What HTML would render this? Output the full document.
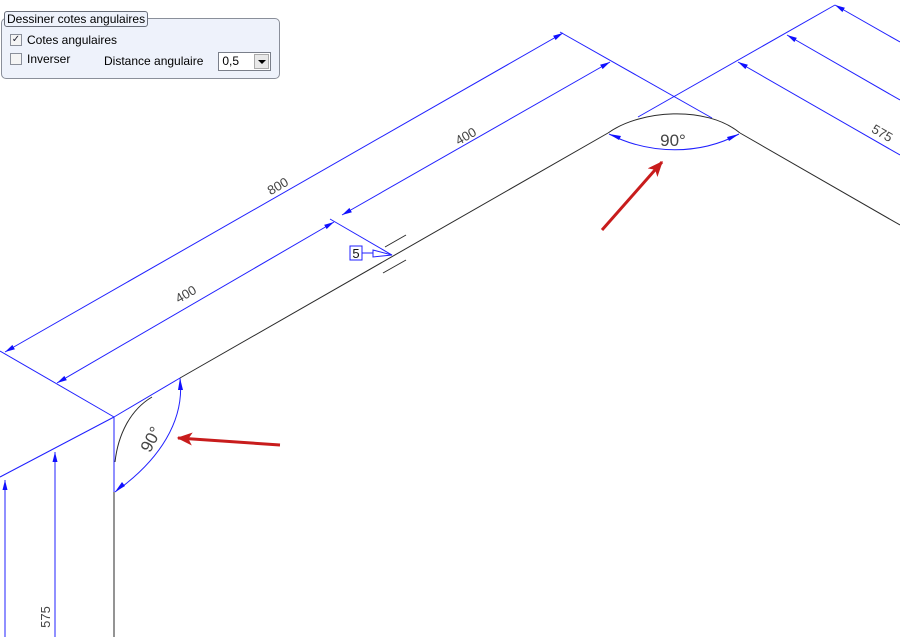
<!DOCTYPE html>
<html><head><meta charset="utf-8"><style>
html,body{margin:0;padding:0;background:#fff;}
body{width:900px;height:637px;position:relative;overflow:hidden;font-family:"Liberation Sans",sans-serif;}
svg{position:absolute;left:0;top:0;}
.dlg{position:absolute;left:1px;top:18px;width:277px;height:59px;border:1px solid #8a8f9a;border-radius:5px;background:#eef2fb;}
.leg{position:absolute;left:4px;top:11px;font-size:12px;border:1px solid #6a6f7a;border-radius:3px;background:#eef2fb;padding:0 2px;line-height:14px;}
.cb{position:absolute;width:10px;height:10px;border:1px solid #8a8f9a;background:#f4f4f4;font-size:10px;line-height:10px;text-align:center;color:#223;}
.t{position:absolute;font-size:12px;}
.combo{position:absolute;left:218px;top:52px;width:51px;height:17px;border:1px solid #7a7f8a;background:#fff;font-size:12px;line-height:17px;}
.btn{position:absolute;right:1px;top:1px;width:15px;height:15px;background:#e8e8e8;border:1px solid #aaa;box-sizing:border-box;}
</style></head><body>
<svg width="900" height="637" viewBox="0 0 900 637">
<defs>
<marker id="a" viewBox="0 0 10 6" refX="10" refY="3" markerWidth="10" markerHeight="6" orient="auto-start-reverse" markerUnits="userSpaceOnUse"><path d="M0,0.5 L10,3 L0,5.5z" fill="#1010ff"/></marker>
<marker id="r" viewBox="0 0 12 10" refX="11" refY="5" markerWidth="16" markerHeight="13" orient="auto" markerUnits="userSpaceOnUse"><path d="M0,0 L12,5 L0,10 L3,5z" fill="#c81c1c"/></marker>
</defs>
<g stroke="#2a2a2a" stroke-width="1" fill="none">
<line x1="114" y1="492" x2="114" y2="637"/>
<line x1="180" y1="378" x2="608" y2="133"/>
<path d="M608,133 C640,110 706,105 740,133"/>
<line x1="740" y1="133" x2="900" y2="225"/>
<path d="M115,462 C118,435 130,410 152,397"/>
<line x1="385" y1="247" x2="406" y2="235"/>
<line x1="383" y1="273" x2="406" y2="260"/>
</g>
<g stroke="#2020ff" stroke-width="1" fill="none">
<line x1="0" y1="351" x2="114" y2="417"/>
<line x1="114" y1="417" x2="114" y2="492"/>
<line x1="114" y1="417" x2="180" y2="378"/>
<line x1="0" y1="477" x2="114" y2="417"/>
<line x1="5" y1="637" x2="5" y2="480" marker-end="url(#a)"/>
<line x1="55" y1="637" x2="55" y2="452" marker-end="url(#a)"/>
<line x1="5" y1="352" x2="563" y2="33" marker-start="url(#a)" marker-end="url(#a)"/>
<line x1="57" y1="383" x2="334" y2="222" marker-start="url(#a)" marker-end="url(#a)"/>
<line x1="342" y1="215" x2="610" y2="62" marker-start="url(#a)" marker-end="url(#a)"/>
<line x1="330" y1="219" x2="392" y2="255"/>
<line x1="560" y1="32" x2="712" y2="118"/>
<line x1="638" y1="117" x2="835" y2="5"/>
<line x1="900" y1="42" x2="835" y2="5" marker-end="url(#a)"/>
<line x1="900" y1="100" x2="787" y2="35" marker-end="url(#a)"/>
<line x1="900" y1="155" x2="738" y2="62" marker-end="url(#a)"/>
<path d="M609,134 C650,155 700,155 739,134" />
<path d="M180,378 C185,420 160,460 115,492"/>
<rect x="350" y="246" width="12" height="14" stroke="#2020ff"/>
<line x1="362" y1="253" x2="373" y2="253"/>
<path d="M373,250 L392,255 L373,257z"/>
</g>
<g fill="#1010ff">
<path d="M609,134 L621,136 L619,140z"/>
<path d="M739,134 L729,141 L727,137z"/>
<path d="M180,378 L183,390 L178,390z"/>
<path d="M115,492 L122,482 L125,486z"/>
</g>
<g fill="#444" font-family="Liberation Sans,sans-serif" font-size="13">
<text x="356" y="258" font-size="13" fill="#111" text-anchor="middle">5</text>
<text transform="translate(280,190) rotate(-30)" text-anchor="middle">800</text>
<text transform="translate(468,140) rotate(-30)" text-anchor="middle">400</text>
<text transform="translate(188,298) rotate(-30)" text-anchor="middle">400</text>
<text transform="translate(880,137) rotate(30)" text-anchor="middle">575</text>
<text transform="translate(50,617) rotate(-90)" text-anchor="middle">575</text>
<text x="673" y="146" font-size="17" text-anchor="middle">90°</text>
<text transform="translate(156,442) rotate(-62)" font-size="17" text-anchor="middle">90°</text>
</g>
<g stroke="#c81c1c" stroke-width="3" fill="none">
<line x1="280" y1="445" x2="178" y2="438" marker-end="url(#r)"/>
<line x1="602" y1="230" x2="662" y2="162" marker-end="url(#r)"/>
</g>
</svg>
<div class="dlg"></div>
<div class="leg">Dessiner cotes angulaires</div>
<div class="cb" style="left:10px;top:34px;">✓</div>
<div class="t" style="left:27px;top:33px;">Cotes angulaires</div>
<div class="cb" style="left:10px;top:53px;"></div>
<div class="t" style="left:27px;top:52px;">Inverser</div>
<div class="t" style="left:104px;top:54px;">Distance angulaire</div>
<div class="combo">&nbsp;0,5<div class="btn"><div style="margin:5px auto 0;width:0;height:0;border-left:4px solid transparent;border-right:4px solid transparent;border-top:4px solid #000;"></div></div></div>
</body></html>
